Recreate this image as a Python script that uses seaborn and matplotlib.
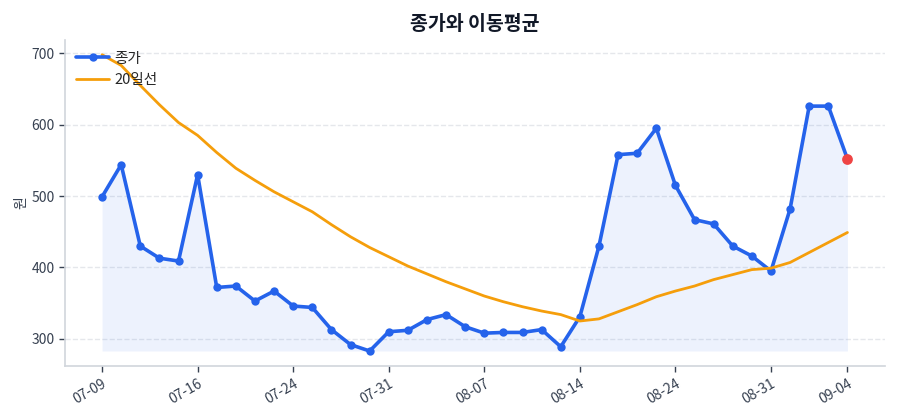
import numpy as np
import pandas as pd
import matplotlib
matplotlib.use("Agg")
import matplotlib.pyplot as plt
import seaborn as sns

# data
dates = ["07-09", "07-10", "07-11", "07-14", "07-15", "07-16", "07-17", "07-18",
         "07-21", "07-22", "07-24", "07-25", "07-28", "07-29", "07-30", "07-31",
         "08-01", "08-04", "08-05", "08-06", "08-07", "08-08", "08-11", "08-12",
         "08-13", "08-14", "08-18", "08-19", "08-20", "08-21", "08-24", "08-25",
         "08-26", "08-27", "08-28", "08-31", "09-01", "09-02", "09-03", "09-04"]
close = [499, 544, 430, 413, 409, 530, 372, 374, 353, 367,
         346, 344, 313, 292, 283, 310, 312, 327, 334, 317,
         308, 309, 309, 313, 289, 331, 430, 558, 560, 595,
         515, 467, 461, 430, 416, 395, 482, 626, 626, 552]
ma20 = [698, 683, 655, 628, 603, 585, 561, 539, 522, 506,
        492, 478, 460, 443, 428, 415, 402, 391, 380, 370,
        360, 352, 345, 339, 334, 325, 328, 338, 348, 359,
        367, 374, 383, 390, 397, 399, 407, 421, 435, 449]
tick_idx = [0, 5, 10, 15, 20, 25, 30, 35, 39]

df = pd.DataFrame({"idx": np.arange(len(dates)), "date": dates,
                   "close": close, "ma20": ma20})

sns.set_theme(style="white")
plt.rcParams["font.family"] = ["Noto Sans CJK KR", "DejaVu Sans"]

fig = plt.figure(figsize=(9, 4.2), dpi=100)
ax = fig.add_axes([0.072, 0.129, 0.911, 0.776])

blue = "#2563eb"
orange = "#f59e0b"

ax.fill_between(df["idx"], df["close"], df["close"].min(),
                color=blue, alpha=0.08, linewidth=0)
sns.lineplot(data=df, x="idx", y="close", ax=ax, color=blue, linewidth=2.6,
             marker="o", markersize=6, markeredgewidth=0, label="종가")
sns.lineplot(data=df, x="idx", y="ma20", ax=ax, color=orange, linewidth=2,
             label="20일선")
ax.scatter(df["idx"].iloc[-1], df["close"].iloc[-1], s=60, color="#ef4444",
           zorder=5, linewidth=0)

ax.set_xticks(tick_idx)
ax.set_xticklabels([dates[i] for i in tick_idx], rotation=30, ha="right",
                   rotation_mode="anchor")
ax.set_yticks([300, 400, 500, 600, 700])
ax.tick_params(axis="both", colors="#374151", labelsize=10, length=4,
               width=1, bottom=True, left=True)
ax.grid(axis="y", linestyle="--", color="#e5e7eb", linewidth=1)
ax.set_axisbelow(True)

for side in ["top", "right"]:
    ax.spines[side].set_visible(False)
for side in ["left", "bottom"]:
    ax.spines[side].set_color("#d1d5db")
    ax.spines[side].set_linewidth(1.2)

ax.set_xlabel("")
ax.set_ylabel("원", color="#374151", fontsize=10, labelpad=2)
ax.set_title("종가와 이동평균", fontsize=14, fontweight="bold",
             color="#111827", pad=7)

ax.legend(loc="upper left", frameon=False, fontsize=10.5, handlelength=2.2,
          handletextpad=0.4, borderaxespad=0.4)

fig.savefig("out.png", dpi=100)
